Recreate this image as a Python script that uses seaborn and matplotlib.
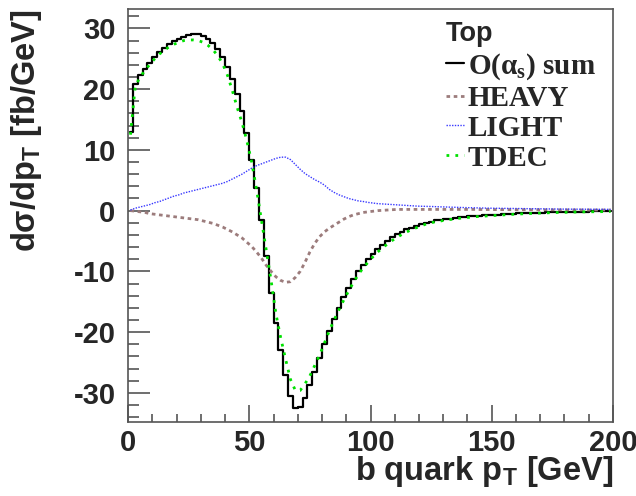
import numpy as np
import pandas as pd
import matplotlib
matplotlib.use('Agg')
import matplotlib.pyplot as plt
import seaborn as sns
from matplotlib.ticker import MultipleLocator

# ── Data: bin centres (2 GeV bins) and contents ────────────────────────────────
PT_CENTRES = np.arange(1, 200, 2)

SUM = [
    13.0, 20.8, 22.3, 23.3, 24.3, 25.3, 26.1, 26.8, 27.4, 27.9,
    28.3, 28.6, 28.9, 29.0, 29.0, 28.8, 28.3, 27.6, 26.6, 25.3,
    23.6, 21.6, 19.2, 16.4, 12.8, 8.3, 3.7, -1.5, -7.5, -13.5,
    -18.5, -23.0, -27.0, -30.5, -32.5, -32.3, -30.8, -28.7, -26.5, -24.3,
    -22.0, -19.8, -17.8, -16.0, -14.2, -12.7, -11.3, -10.0, -9.0, -8.0,
    -7.1, -6.3, -5.6, -5.0, -4.4, -3.9, -3.5, -3.1, -2.8, -2.5,
    -2.2, -2.0, -1.8, -1.6, -1.5, -1.4, -1.3, -1.2, -1.1, -1.0,
    -0.95, -0.9, -0.85, -0.8, -0.75, -0.7, -0.65, -0.6, -0.55, -0.5,
    -0.47, -0.44, -0.41, -0.38, -0.35, -0.32, -0.3, -0.28, -0.26, -0.24,
    -0.22, -0.2, -0.18, -0.16, -0.15, -0.14, -0.13, -0.12, -0.11, -0.1,
]

HEAVY = [
    0.0, -0.1, -0.2, -0.3, -0.5, -0.6, -0.7, -0.8, -0.9, -1.0,
    -1.1, -1.2, -1.3, -1.4, -1.5, -1.7, -1.9, -2.1, -2.4, -2.7,
    -3.1, -3.5, -4.0, -4.5, -5.2, -5.9, -6.8, -7.8, -9.0, -10.0,
    -10.9, -11.5, -11.8, -11.7, -11.0, -10.0, -8.5, -6.8, -5.4, -4.3,
    -3.5, -2.9, -2.4, -1.9, -1.4, -1.0, -0.7, -0.5, -0.3, -0.2,
    -0.1, 0.0, 0.05, 0.1, 0.15, 0.2, 0.2, 0.2, 0.2, 0.2,
    0.2, 0.2, 0.2, 0.2, 0.2, 0.2, 0.2, 0.2, 0.2, 0.2,
    0.2, 0.2, 0.18, 0.18, 0.18, 0.17, 0.17, 0.16, 0.16, 0.15,
    0.15, 0.15, 0.14, 0.14, 0.14, 0.13, 0.13, 0.13, 0.12, 0.12,
    0.12, 0.12, 0.11, 0.11, 0.11, 0.1, 0.1, 0.1, 0.1, 0.1,
]

LIGHT = [
    0.1, 0.4, 0.6, 0.8, 1.0, 1.3, 1.5, 1.8, 2.1, 2.4,
    2.6, 2.9, 3.1, 3.3, 3.5, 3.7, 3.9, 4.1, 4.3, 4.5,
    4.8, 5.2, 5.6, 6.0, 6.5, 7.0, 7.4, 7.7, 8.0, 8.3,
    8.6, 8.8, 8.8, 8.4, 7.6, 6.8, 6.1, 5.6, 5.1, 4.7,
    4.2, 3.5, 3.0, 2.6, 2.3, 2.0, 1.8, 1.6, 1.5, 1.35,
    1.25, 1.15, 1.1, 1.05, 1.0, 0.95, 0.9, 0.85, 0.8, 0.75,
    0.72, 0.7, 0.68, 0.65, 0.62, 0.6, 0.57, 0.55, 0.52, 0.5,
    0.48, 0.46, 0.44, 0.42, 0.4, 0.39, 0.38, 0.37, 0.36, 0.35,
    0.34, 0.33, 0.32, 0.31, 0.3, 0.29, 0.28, 0.27, 0.26, 0.25,
    0.25, 0.24, 0.24, 0.23, 0.23, 0.22, 0.22, 0.21, 0.21, 0.2,
]

TDEC = [
    12.5, 20.5, 22.0, 23.1, 24.1, 25.0, 25.8, 26.4, 27.0, 27.4,
    27.7, 28.0, 28.1, 28.1, 28.0, 27.7, 27.2, 26.5, 25.5, 24.2,
    22.3, 19.8, 17.0, 14.5, 11.5, 8.0, 3.5, -1.5, -6.5, -11.5,
    -17.0, -21.0, -24.5, -27.8, -29.6, -29.6, -28.5, -27.2, -25.5, -23.8,
    -21.8, -19.8, -18.0, -16.3, -14.7, -13.2, -11.8, -10.5, -9.4, -8.5,
    -7.6, -6.8, -6.1, -5.5, -4.9, -4.4, -3.9, -3.5, -3.1, -2.8,
    -2.5, -2.2, -2.0, -1.8, -1.7, -1.55, -1.45, -1.35, -1.25, -1.15,
    -1.1, -1.0, -0.95, -0.9, -0.85, -0.8, -0.75, -0.7, -0.65, -0.6,
    -0.56, -0.52, -0.48, -0.45, -0.42, -0.39, -0.36, -0.33, -0.31, -0.29,
    -0.27, -0.25, -0.23, -0.21, -0.2, -0.19, -0.18, -0.17, -0.16, -0.15,
]

SERIES_LABELS = ['O(α$_\\mathregular{s}$) sum', 'HEAVY', 'LIGHT', 'TDEC']

# ── Style ─────────────────────────────────────────────────────────────────────
sns.set_theme(style='white')
plt.rcParams['font.family'] = ['Liberation Sans', 'DejaVu Sans']
plt.rcParams['axes.edgecolor'] = '#555555'
plt.rcParams['axes.linewidth'] = 1.2
plt.rcParams['axes.unicode_minus'] = False

df = pd.DataFrame({'pt': PT_CENTRES, 'SUM': SUM, 'HEAVY': HEAVY,
                   'LIGHT': LIGHT, 'TDEC': TDEC})

fig = plt.figure(figsize=(6.36, 4.96), dpi=100)
ax = fig.add_axes([0.2013, 0.1492, 0.7625, 0.8327])

# column, colour, dash pattern, width, drawstyle
styles = [
    ('SUM',   'black',   '-',              1.6, 'steps-mid'),
    ('HEAVY', '#9c7c7c', (0, (1.3, 1.3)),  2.0, 'default'),
    ('LIGHT', '#3838ff', (0, (1, 1)),      1.0, 'default'),
    ('TDEC',  '#00e000', (0, (1, 2.2)),    2.0, 'default'),
]
for (col, color, ls, lw, ds), label in zip(styles, SERIES_LABELS):
    sns.lineplot(data=df, x='pt', y=col, ax=ax, color=color, linestyle=ls,
                 linewidth=lw, drawstyle=ds, label=label)

ax.set_xlim(0, 200)
ax.set_ylim(-34.8, 33.2)

ax.xaxis.set_major_locator(MultipleLocator(50))
ax.xaxis.set_minor_locator(MultipleLocator(10))
ax.yaxis.set_major_locator(MultipleLocator(10))
ax.yaxis.set_minor_locator(MultipleLocator(2))
ax.tick_params(which='both', direction='in', left=True, bottom=True,
               top=False, right=False, color='#555555', width=1.2)
ax.tick_params(axis='y', which='major', length=16, pad=9)
ax.tick_params(axis='y', which='minor', length=8)
ax.tick_params(axis='x', which='major', length=12, pad=5)
ax.tick_params(axis='x', which='minor', length=6)
for lab in ax.get_xticklabels() + ax.get_yticklabels():
    lab.set_fontsize(21)
    lab.set_fontweight('bold')

ax.set_xlabel('b quark p$_\\mathregular{T}$ [GeV]', fontsize=23.5,
              fontweight='bold', loc='right', labelpad=-2)
ax.set_ylabel('dσ/dp$_\\mathregular{T}$ [fb/GeV]', fontsize=23.5,
              fontweight='bold', loc='top', labelpad=21)

leg = ax.legend(loc='upper left', bbox_to_anchor=(446 / 636, 1 - 21 / 496),
                bbox_transform=fig.transFigure, frameon=False,
                prop={'family': 'Liberation Serif', 'weight': 'bold', 'size': 21},
                title='Top', title_fontproperties={'family': 'Liberation Sans',
                                                   'weight': 'bold', 'size': 19.5},
                alignment='left', handlelength=0.6, handletextpad=0.15,
                labelspacing=0.1, borderpad=0, borderaxespad=0)
leg._legend_box.sep = 3

fig.savefig('out.png', dpi=100)
